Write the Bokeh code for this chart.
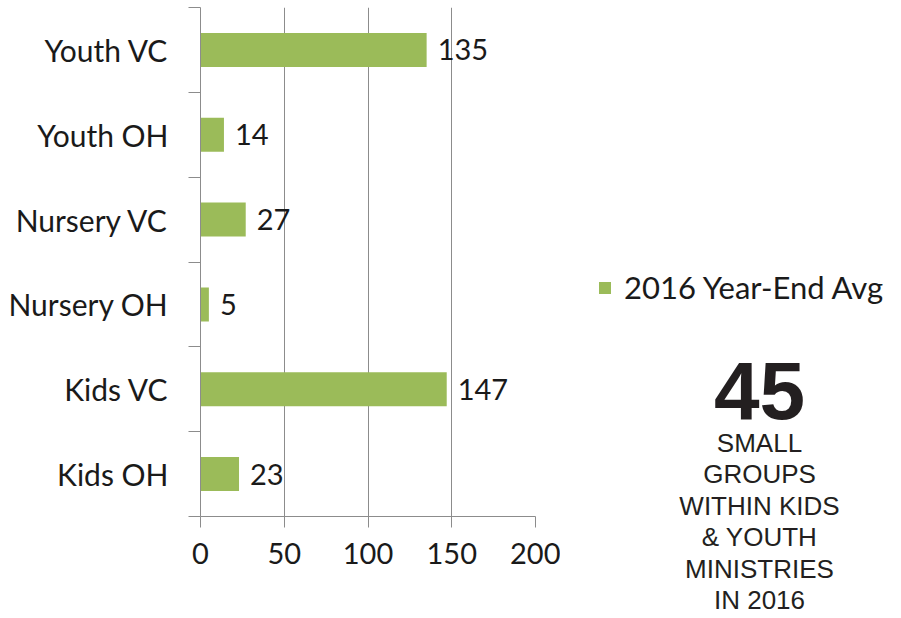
from bokeh.plotting import figure
from bokeh.layouts import row
from bokeh.models import (ColumnDataSource, Range1d, LinearAxis,
                          FixedTicker, LabelSet, Label, Legend,
                          LegendItem, CustomJSTickFormatter)
from bokeh.core.properties import value
from bokeh.embed import file_html
from bokeh.resources import INLINE

# ---- data ----
categories = ["Youth VC", "Youth OH", "Nursery VC", "Nursery OH", "Kids VC", "Kids OH"]
values = [135, 14, 27, 5, 147, 23]
x_ticks = [0, 50, 100, 150, 200]
series_name = "2016 Year-End Avg"
big_number = "45"
caption_lines = ["SMALL", "GROUPS", "WITHIN KIDS", "& YOUTH", "MINISTRIES", "IN 2016"]

# ---- styles ----
bar_color = "#9bbb59"
grid_color = "#8c8c8c"
text_color = "#1a1a1a"
axis_font = "Lato"
axis_font_size = "29px"
H = 616

n = len(categories)
ypos = [n - 0.5 - i for i in range(n)]          # category band centres (top first)
src = ColumnDataSource(dict(cat=categories, y=ypos, val=values,
                            lab=[str(v) for v in values]))

# ================= bar chart =================
p = figure(width=560, height=H,
           y_range=Range1d(0, n), x_range=Range1d(0, 200),
           output_backend="svg", toolbar_location=None,
           y_axis_location=None,
           min_border_left=200, min_border_right=25,
           min_border_top=7, min_border_bottom=H - 516)
p.frame_align = False
p.outline_line_color = None
p.ygrid.grid_line_color = None
p.xgrid.grid_line_color = grid_color
p.xgrid.grid_line_width = 1
p.xgrid.ticker = FixedTicker(ticks=x_ticks)

# x axis
p.xaxis.ticker = FixedTicker(ticks=x_ticks)
p.xaxis.axis_line_color = grid_color
p.xaxis.major_tick_line_color = grid_color
p.xaxis.major_tick_out = 11
p.xaxis.major_tick_in = 0
p.xaxis.minor_tick_line_color = None
p.xaxis.major_label_standoff = 15
p.xaxis.major_label_text_font = axis_font
p.xaxis.major_label_text_font_size = axis_font_size
p.xaxis.major_label_text_color = text_color

# y axis: boundary tick marks (inner) + category labels (outer)
tick_axis = LinearAxis(ticker=FixedTicker(ticks=list(range(n + 1))),
                       formatter=CustomJSTickFormatter(code="return ''"),
                       major_tick_out=12, major_tick_in=0,
                       minor_tick_line_color=None,
                       major_label_standoff=0,
                       axis_line_color=grid_color,
                       major_tick_line_color=grid_color)
label_axis = LinearAxis(ticker=FixedTicker(ticks=ypos),
                        formatter=CustomJSTickFormatter(
                            args=dict(names=categories, n=n),
                            code="return names[n - 1 - Math.floor(tick)];"),
                        major_tick_out=0, major_tick_in=0,
                        axis_line_color=None,
                        major_tick_line_color=None,
                        minor_tick_line_color=None,
                        major_label_standoff=20,
                        major_label_text_font=axis_font,
                        major_label_text_font_size="30px",
                        major_label_text_color=text_color)
p.add_layout(tick_axis, "left")
p.add_layout(label_axis, "left")

bars = p.hbar(y="y", right="val", left=0, height=0.4, source=src,
              fill_color=bar_color, line_color=None)

vals = LabelSet(x="val", y="y", text="lab", source=src, x_offset=11,
                text_baseline="middle", text_align="left",
                text_font=value(axis_font), text_font_size=value(axis_font_size),
                text_color=text_color)
p.add_layout(vals)

# ================= right panel: legend + callout =================
W2 = 899 - 560
q = figure(width=W2, height=H, x_range=Range1d(0, W2), y_range=Range1d(H, 0),
           output_backend="svg", toolbar_location=None,
           x_axis_location=None, y_axis_location=None,
           min_border=0)
q.frame_align = False
q.outline_line_color = None
q.grid.grid_line_color = None

# same series, hidden in this panel; used only for its legend swatch
swatch = q.hbar(y="y", right="val", height=0.4, source=src,
                fill_color=bar_color, line_color=None, visible=False)
legend = Legend(items=[LegendItem(label=series_name, renderers=[swatch])],
                location=(37, H - 290 - 16), orientation="vertical",
                glyph_width=15, glyph_height=15, label_standoff=12,
                padding=0, margin=0, spacing=0,
                border_line_color=None, background_fill_alpha=0,
                inactive_fill_alpha=0,
                label_text_font=axis_font, label_text_font_size="31px",
                label_text_color=text_color)
q.add_layout(legend)

cx = 759 - 560
q.add_layout(Label(x=cx, y=390, text=big_number, text_align="center",
                   text_baseline="alphabetic",
                   text_font="Liberation Sans", text_font_style="bold",
                   text_font_size="82px", text_color="#231f20"))
first_base = 442
step = 31.5
for i, line in enumerate(caption_lines):
    q.add_layout(Label(x=cx, y=first_base + i * step, text=line,
                       text_align="center", text_baseline="alphabetic",
                       text_font="Liberation Sans",
                       text_font_size="26px", text_color="#231f20"))

layout = row(p, q)
open("out.html", "w").write(file_html(layout, INLINE))
